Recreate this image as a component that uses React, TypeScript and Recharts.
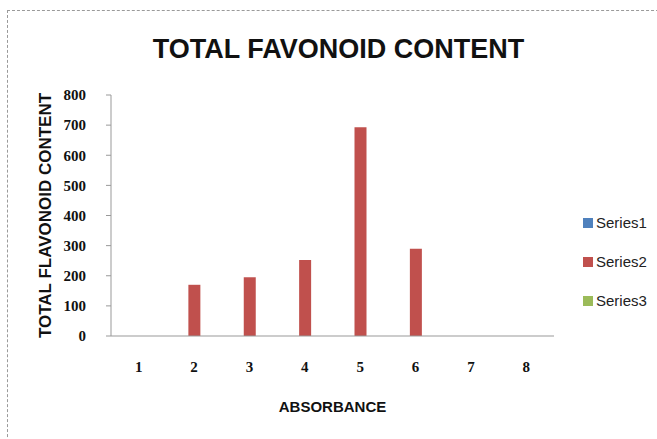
import React from 'react';
import { BarChart, Bar, XAxis, YAxis } from 'recharts';

const categories = ['1', '2', '3', '4', '5', '6', '7', '8'];
const series1: (number | null)[] = [null, null, null, null, null, null, null, null];
const series2: (number | null)[] = [null, 170, 195, 252, 693, 290, null, null];
const series3: (number | null)[] = [null, null, null, null, null, null, null, null];
const yTicks = [0, 100, 200, 300, 400, 500, 600, 700, 800];
const seriesNames = ['Series1', 'Series2', 'Series3'];
const seriesColors = ['#4F81BD', '#C0504D', '#9BBB59'];

const data = categories.map((c, i) => ({
  x: c,
  Series1: series1[i],
  Series2: series2[i],
  Series3: series3[i],
}));

const sans = '"Liberation Sans", Arial, sans-serif';
const serif = '"Liberation Serif", "Times New Roman", serif';

// legend drawn as plain html so it doesn't eat into the plot area
function LegendBox() {
  return (
    <div
      style={{
        position: 'absolute',
        left: 583,
        top: 203,
        fontFamily: sans,
        fontSize: 15,
        color: '#222',
      }}
    >
      {seriesNames.map((name, i) => (
        <div key={name} style={{ display: 'flex', alignItems: 'center', height: 39 }}>
          <span
            style={{
              width: 10,
              height: 10,
              background: seriesColors[i],
              display: 'inline-block',
              marginRight: 3,
            }}
          />
          {name}
        </div>
      ))}
    </div>
  );
}

export default function App() {
  return (
    <div style={{ position: 'absolute', left: 0, top: 0, width: 657, height: 439, background: '#fff', overflow: 'hidden' }}>
      <div
        style={{
          position: 'absolute',
          left: 7,
          top: 10,
          width: 680,
          height: 460,
          border: '1px dashed #9a9a9a',
        }}
      />
      <div
        style={{
          position: 'absolute',
          left: 10,
          top: 36,
          width: 657,
          textAlign: 'center',
          fontFamily: sans,
          fontWeight: 'bold',
          fontSize: 27,
          lineHeight: '27px',
          color: '#111',
        }}
      >
        TOTAL FAVONOID CONTENT
      </div>
      <div style={{ position: 'absolute', left: 0, top: 0 }}>
        <BarChart
          width={657}
          height={439}
          data={data}
          margin={{ top: 95, right: 103, bottom: 23, left: 36 }}
          barGap={0}
          barSize={12}
        >
          <XAxis
            dataKey="x"
            height={80}
            tickSize={0}
            tickMargin={25}
            axisLine={{ stroke: '#999' }}
            tick={{ fill: '#111', fontFamily: serif, fontWeight: 'bold', fontSize: 15 }}
            label={{
              value: 'ABSORBANCE',
              position: 'insideBottom',
              offset: 4,
              fill: '#111',
              fontFamily: sans,
              fontWeight: 'bold',
              fontSize: 15,
            }}
          />
          <YAxis
            width={75}
            domain={[0, 800]}
            ticks={yTicks}
            tickSize={5}
            tickMargin={20}
            interval={0}
            axisLine={{ stroke: '#999' }}
            tickLine={{ stroke: '#999' }}
            tick={{ fill: '#111', fontFamily: serif, fontWeight: 'bold', fontSize: 15 }}
            label={{
              value: 'TOTAL FLAVONOID CONTENT',
              angle: -90,
              position: 'insideLeft',
              offset: 9,
              fill: '#111',
              fontFamily: sans,
              fontWeight: 'bold',
              fontSize: 17,
              style: { textAnchor: 'middle' },
            }}
          />
          {seriesNames.map((name, i) => (
            <Bar key={name} dataKey={name} fill={seriesColors[i]} isAnimationActive={false} />
          ))}
        </BarChart>
      </div>
      <LegendBox />
    </div>
  );
}
